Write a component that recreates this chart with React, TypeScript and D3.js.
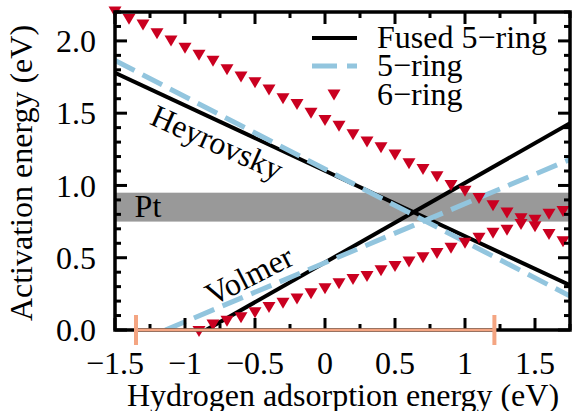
import React, { useRef, useEffect } from "react";
import { select, scaleLinear, line, range } from "d3";

// x axis = hydrogen adsorption energy, y axis = activation energy (both eV)
const xTicks = [-1.5, -1, -0.5, 0, 0.5, 1, 1.5];
const xTickLabels = ["−1.5", "−1", "−0.5", "0", "0.5", "1", "1.5"];
const yTicks = [0, 0.5, 1, 1.5, 2];
const yTickLabels = ["0.0", "0.5", "1.0", "1.5", "2.0"];

// fused 5-ring (solid black lines)
const fusedHeyrovskyX = [-1.5, 1.75];
const fusedHeyrovskyY = [1.78, 0.31];
const fusedVolmerX = [-0.85, 1.75];
const fusedVolmerY = [0, 1.43];

// 5-ring (dashed blue lines)
const ring5HeyrovskyX = [-1.5, 1.75];
const ring5HeyrovskyY = [1.865, 0.235];
const ring5VolmerX = [-1.14, 1.75];
const ring5VolmerY = [0, 1.18];

// 6-ring (triangles), upper and lower branch
const ring6UpperX = [
  -1.5, -1.4, -1.3, -1.2, -1.1, -1.0, -0.9, -0.8, -0.7, -0.6, -0.5, -0.4, -0.3,
  -0.2, -0.1, 0, 0.1, 0.2, 0.3, 0.4, 0.5, 0.6, 0.7, 0.8, 0.9, 1.0, 1.1, 1.2,
  1.3, 1.4, 1.5, 1.6, 1.7,
];
const ring6UpperY = [
  2.2, 2.15, 2.11, 2.05, 2.0, 1.95, 1.9, 1.86, 1.8, 1.75, 1.71, 1.66, 1.6,
  1.56, 1.5, 1.45, 1.41, 1.35, 1.3, 1.26, 1.21, 1.15, 1.11, 1.06, 1.0, 0.96,
  0.91, 0.86, 0.81, 0.77, 0.76, 0.8, 0.82,
];
const ring6LowerX = [
  -0.9, -0.8, -0.7, -0.6, -0.5, -0.4, -0.3, -0.2, -0.1, 0, 0.1, 0.2, 0.3, 0.4,
  0.5, 0.6, 0.7, 0.8, 0.9, 1.0, 1.1, 1.2, 1.3, 1.4, 1.5, 1.6, 1.7,
];
const ring6LowerY = [
  -0.01, 0.035, 0.06, 0.085, 0.12, 0.155, 0.185, 0.215, 0.25, 0.285, 0.32,
  0.35, 0.37, 0.41, 0.44, 0.47, 0.5, 0.53, 0.565, 0.6, 0.635, 0.67, 0.69, 0.73,
  0.715, 0.66, 0.61,
];

// Pt activation energy window and the orange range bar
const ptBand = [0.75, 0.95];
const rangeBar = [-1.35, 1.21];

const legendLabels = ["Fused 5−ring", "5−ring", "6−ring"];

const WIDTH = 572;
const HEIGHT = 411;
const FONT = "'Liberation Serif', 'Times New Roman', serif";
const BLUE = "#92c5de";
const RED = "#ca0020";
const ORANGE = "#f4a582";

function Chart() {
  const svgRef = useRef<SVGSVGElement>(null);

  useEffect(() => {
    const svg = select(svgRef.current);
    svg.selectAll("*").remove();

    const xScale = scaleLinear().domain([-1.5, 1.75]).range([115, 570]);
    const yScale = scaleLinear().domain([0, 2.2]).range([330, 12]);
    const [x0, x1] = xScale.range();
    const [y0, y1] = yScale.range();

    const pts = (xs: number[], ys: number[]) =>
      xs.map((x, i) => [x, ys[i]] as [number, number]);
    const path = line<[number, number]>()
      .x((d) => xScale(d[0]))
      .y((d) => yScale(d[1]));

    // clip for the lines
    svg
      .append("defs")
      .append("clipPath")
      .attr("id", "plotclip")
      .append("rect")
      .attr("x", x0)
      .attr("y", y1)
      .attr("width", x1 - x0)
      .attr("height", y0 - y1);

    // grey Pt band
    svg
      .append("rect")
      .attr("x", x0)
      .attr("width", x1 - x0)
      .attr("y", yScale(ptBand[1]))
      .attr("height", yScale(ptBand[0]) - yScale(ptBand[1]))
      .attr("fill", "#999999");

    const lines = svg.append("g").attr("clip-path", "url(#plotclip)");
    // fused 5-ring
    [pts(fusedHeyrovskyX, fusedHeyrovskyY), pts(fusedVolmerX, fusedVolmerY)].forEach(
      (d) => {
        lines
          .append("path")
          .attr("d", path(d))
          .attr("fill", "none")
          .attr("stroke", "black")
          .attr("stroke-width", 4);
      }
    );
    // 5-ring
    [pts(ring5HeyrovskyX, ring5HeyrovskyY), pts(ring5VolmerX, ring5VolmerY)].forEach(
      (d) => {
        lines
          .append("path")
          .attr("d", path(d))
          .attr("fill", "none")
          .attr("stroke", BLUE)
          .attr("stroke-width", 5)
          .attr("stroke-dasharray", "22,9");
      }
    );

    // 6-ring triangles
    const tri = "M-6.5,-5.5L6.5,-5.5L0,5.5Z";
    const ring6 = pts(ring6UpperX, ring6UpperY).concat(pts(ring6LowerX, ring6LowerY));
    svg
      .append("g")
      .selectAll("path")
      .data(ring6)
      .join("path")
      .attr("d", tri)
      .attr("transform", (d) => `translate(${xScale(d[0])},${yScale(d[1])})`)
      .attr("fill", RED);

    // frame
    svg
      .append("rect")
      .attr("x", x0)
      .attr("y", y1)
      .attr("width", x1 - x0)
      .attr("height", y0 - y1)
      .attr("fill", "none")
      .attr("stroke", "black")
      .attr("stroke-width", 3.5);

    // inward ticks on all four sides
    const ticks = svg.append("g").attr("stroke", "black").attr("stroke-width", 3);
    const xMinor = range(-1.25, 1.76, 0.5);
    const yMinor = range(0, 2.21, 0.1).filter(
      (v) => Math.abs(v * 2 - Math.round(v * 2)) > 1e-6
    );
    const tickX = (vals: number[], len: number) => {
      vals.forEach((v) => {
        ticks.append("line").attr("x1", xScale(v)).attr("x2", xScale(v)).attr("y1", y0).attr("y2", y0 - len);
        ticks.append("line").attr("x1", xScale(v)).attr("x2", xScale(v)).attr("y1", y1).attr("y2", y1 + len);
      });
    };
    const tickY = (vals: number[], len: number) => {
      vals.forEach((v) => {
        ticks.append("line").attr("y1", yScale(v)).attr("y2", yScale(v)).attr("x1", x0).attr("x2", x0 + len);
        ticks.append("line").attr("y1", yScale(v)).attr("y2", yScale(v)).attr("x1", x1).attr("x2", x1 - len);
      });
    };
    tickX(xTicks, 12);
    tickX(xMinor, 6);
    tickY(yTicks, 12);
    tickY(yMinor, 6);

    // orange range bar along the x axis
    const bar = svg.append("g").attr("stroke", ORANGE);
    bar
      .append("line")
      .attr("x1", xScale(rangeBar[0]))
      .attr("x2", xScale(rangeBar[1]))
      .attr("y1", yScale(0))
      .attr("y2", yScale(0))
      .attr("stroke-width", 3);
    rangeBar.forEach((v) => {
      bar
        .append("line")
        .attr("x1", xScale(v))
        .attr("x2", xScale(v))
        .attr("y1", yScale(0) - 15)
        .attr("y2", yScale(0) + 15)
        .attr("stroke-width", 4);
    });

    // tick labels
    const txt = svg.append("g").attr("font-family", FONT).attr("font-size", 32).attr("fill", "black");
    xTicks.forEach((v, i) => {
      txt.append("text").attr("x", xScale(v)).attr("y", 374).attr("text-anchor", "middle").text(xTickLabels[i]);
    });
    yTicks.forEach((v, i) => {
      txt
        .append("text")
        .attr("x", 96)
        .attr("y", yScale(v))
        .attr("dy", "0.35em")
        .attr("text-anchor", "end")
        .text(yTickLabels[i]);
    });

    // axis titles
    txt
      .append("text")
      .attr("x", 343)
      .attr("y", 406)
      .attr("text-anchor", "middle")
      .text("Hydrogen adsorption energy (eV)");
    txt
      .append("text")
      .attr("transform", "translate(32,173) rotate(-90)")
      .attr("text-anchor", "middle")
      .text("Activation energy (eV)");

    // in-plot annotations
    txt
      .append("text")
      .attr("transform", `translate(${xScale(-0.77)},${yScale(1.3)}) rotate(24)`)
      .attr("text-anchor", "middle")
      .attr("dy", "0.35em")
      .text("Heyrovsky");
    txt
      .append("text")
      .attr("transform", `translate(${xScale(-0.544)},${yScale(0.38)}) rotate(-27)`)
      .attr("text-anchor", "middle")
      .attr("dy", "0.35em")
      .text("Volmer");
    txt.append("text").attr("x", xScale(-1.36)).attr("y", yScale(0.78)).text("Pt");

    // legend
    const lg = svg.append("g");
    const lgY = [38, 66, 95];
    lg.append("line").attr("x1", 312).attr("x2", 357).attr("y1", lgY[0]).attr("y2", lgY[0]).attr("stroke", "black").attr("stroke-width", 4);
    lg.append("line")
      .attr("x1", 312)
      .attr("x2", 357)
      .attr("y1", lgY[1])
      .attr("y2", lgY[1])
      .attr("stroke", BLUE)
      .attr("stroke-width", 5)
      .attr("stroke-dasharray", "25,10");
    lg.append("path").attr("d", tri).attr("transform", `translate(334,${lgY[2]})`).attr("fill", RED);
    legendLabels.forEach((l, i) => {
      txt.append("text").attr("x", 377).attr("y", lgY[i] + 10).text(l);
    });
  }, []);

  return (
    <svg
      ref={svgRef}
      width={WIDTH}
      height={HEIGHT}
      style={{ position: "absolute", left: 0, top: 0, background: "white" }}
    />
  );
}

export default function App() {
  return <Chart />;
}
